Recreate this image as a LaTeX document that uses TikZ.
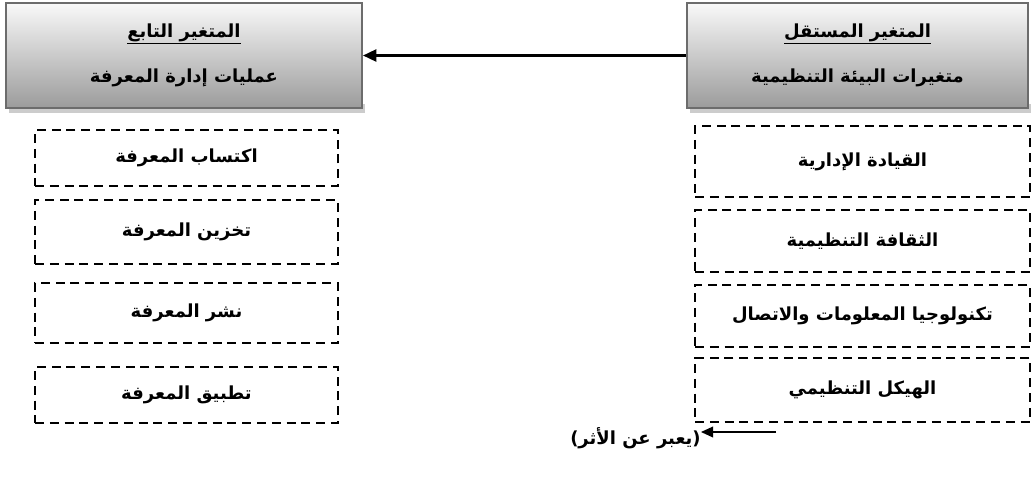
\documentclass[tikz,border=0pt]{standalone}
\usepackage{fontspec}
\newfontfamily\arabicfont[Script=Arabic]{DejaVu Sans}
\TeXXeTstate=1
\usetikzlibrary{arrows.meta}
\newcommand{\artxt}[1]{{\arabicfont\bfseries\beginR #1\endR}}
\begin{document}
\begin{tikzpicture}[x=0.75pt,y=-0.75pt,
  headbox/.style={draw=gray!85!black,line width=1.5pt,top color=gray!5,bottom color=gray!78,
    minimum height=105*0.75pt,align=center,inner sep=0pt,font=\fontsize{13.5}{16}\selectfont},
  dbox/.style={draw=black,line width=1.6pt,dash pattern=on 6.8pt off 4.3pt,
    inner sep=0pt,font=\fontsize{13.5}{16}\selectfont},
  link/.style={line width=1.8pt,-{Triangle[length=10pt,width=9pt]}}]
\useasboundingbox (0,0) rectangle (1032,483);
% shadows
\fill[gray!40] (9,104) rectangle (365,113);
\fill[gray!40] (690,104) rectangle (1031,113);
% heading boxes
\node[headbox,minimum width=356*0.75pt] (dep) at (184,55.5)
  {\underline{\artxt{المتغير التابع}}\\[18pt]\artxt{عمليات إدارة المعرفة}};
\node[headbox,minimum width=341*0.75pt] (ind) at (857.5,55.5)
  {\underline{\artxt{المتغير المستقل}}\\[18pt]\artxt{متغيرات البيئة التنظيمية}};
\draw[link] (ind.west) -- (dep.east);
% left dashed boxes
\node[dbox,minimum width=303*0.75pt,minimum height=56*0.75pt] (k1) at (186.5,158) {\artxt{اكتساب المعرفة}};
\node[dbox,minimum width=303*0.75pt,minimum height=64*0.75pt] (k2) at (186.5,232) {\artxt{تخزين المعرفة}};
\node[dbox,minimum width=303*0.75pt,minimum height=60*0.75pt] (k3) at (186.5,313) {\artxt{نشر المعرفة}};
\node[dbox,minimum width=303*0.75pt,minimum height=56*0.75pt] (k4) at (186.5,395) {\artxt{تطبيق المعرفة}};
% right dashed boxes
\node[dbox,minimum width=335*0.75pt,minimum height=71*0.75pt] (e1) at (862.5,161.5) {\artxt{القيادة الإدارية}};
\node[dbox,minimum width=335*0.75pt,minimum height=62*0.75pt] (e2) at (862.5,241) {\artxt{الثقافة التنظيمية}};
\node[dbox,minimum width=335*0.75pt,minimum height=62*0.75pt] (e3) at (862.5,316) {\artxt{تكنولوجيا المعلومات والاتصال}};
\node[dbox,minimum width=335*0.75pt,minimum height=64*0.75pt] (e4) at (862.5,390) {\artxt{الهيكل التنظيمي}};
% legend
\coordinate (lgs) at (776,432);
\node[anchor=east,inner sep=0pt,font=\fontsize{13.5}{16}\selectfont] (lgt) at (701,438) {\artxt{(يعبر عن الأثر)}};
\draw[line width=1.1pt,-{Triangle[length=9pt,width=8pt]}] (lgs) -- (lgt.east |- lgs);
\end{tikzpicture}
\end{document}
